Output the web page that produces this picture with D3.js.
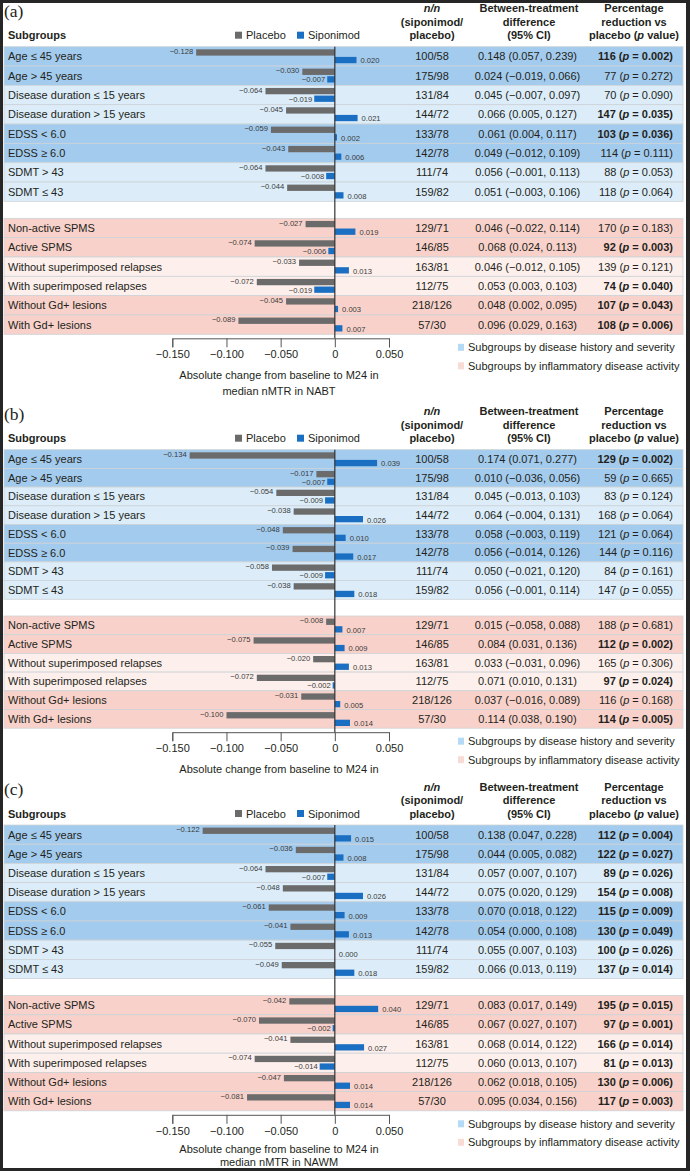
<!DOCTYPE html>
<html><head><meta charset="utf-8">
<script src="https://cdn.jsdelivr.net/npm/d3@7"></script>
<style>body{margin:0;background:#fff}svg{display:block}</style>
</head><body><script>
// ---------- DATA ----------
const subgroups = ["Age ≤ 45 years","Age > 45 years","Disease duration ≤ 15 years","Disease duration > 15 years",
  "EDSS < 6.0","EDSS ≥ 6.0","SDMT > 43","SDMT ≤ 43",
  "Non-active SPMS","Active SPMS","Without superimposed relapses","With superimposed relapses",
  "Without Gd+ lesions","With Gd+ lesions"];
const shade = ["hd","hd","hl","hl","hd","hd","hl","hl","id","id","il","il","id","id"];
const nSiponimod = [100,175,131,144,133,142,111,159,129,146,163,112,218,57];
const nPlacebo   = [58,98,84,72,78,78,74,82,71,85,81,75,126,30];
const seriesNames = ["Placebo","Siponimod"];
const tickValues = [-0.15,-0.10,-0.05,0,0.05];
const legendGroups = ["Subgroups by disease history and severity","Subgroups by inflammatory disease activity"];

// Panel (a) NABT
const placeboA   = [-0.128,-0.030,-0.064,-0.045,-0.059,-0.043,-0.064,-0.044,-0.027,-0.074,-0.033,-0.072,-0.045,-0.089];
const siponimodA = [0.020,-0.007,-0.019,0.021,0.002,0.006,-0.008,0.008,0.019,-0.006,0.013,-0.019,0.003,0.007];
const diffA = ["0.148 (0.057, 0.239)","0.024 (−0.019, 0.066)","0.045 (−0.007, 0.097)","0.066 (0.005, 0.127)",
  "0.061 (0.004, 0.117)","0.049 (−0.012, 0.109)","0.056 (−0.001, 0.113)","0.051 (−0.003, 0.106)",
  "0.046 (−0.022, 0.114)","0.068 (0.024, 0.113)","0.046 (−0.012, 0.105)","0.053 (0.003, 0.103)",
  "0.048 (0.002, 0.095)","0.096 (0.029, 0.163)"];
const pctA = [116,77,70,147,103,114,88,118,170,92,139,74,107,108];
const pA = ["0.002","0.272","0.090","0.035","0.036","0.111","0.053","0.064","0.183","0.003","0.121","0.040","0.043","0.006"];
const sigA = [1,0,0,1,1,0,0,0,0,1,0,1,1,1];

// Panel (b)
const placeboB   = [-0.134,-0.017,-0.054,-0.038,-0.048,-0.039,-0.058,-0.038,-0.008,-0.075,-0.020,-0.072,-0.031,-0.100];
const siponimodB = [0.039,-0.007,-0.009,0.026,0.010,0.017,-0.009,0.018,0.007,0.009,0.013,-0.002,0.005,0.014];
const diffB = ["0.174 (0.071, 0.277)","0.010 (−0.036, 0.056)","0.045 (−0.013, 0.103)","0.064 (−0.004, 0.131)",
  "0.058 (−0.003, 0.119)","0.056 (−0.014, 0.126)","0.050 (−0.021, 0.120)","0.056 (−0.001, 0.114)",
  "0.015 (−0.058, 0.088)","0.084 (0.031, 0.136)","0.033 (−0.031, 0.096)","0.071 (0.010, 0.131)",
  "0.037 (−0.016, 0.089)","0.114 (0.038, 0.190)"];
const pctB = [129,59,83,168,121,144,84,147,188,112,165,97,116,114];
const pB = ["0.002","0.665","0.124","0.064","0.064","0.116","0.161","0.055","0.681","0.002","0.306","0.024","0.168","0.005"];
const sigB = [1,0,0,0,0,0,0,0,0,1,0,1,0,1];

// Panel (c) NAWM
const placeboC   = [-0.122,-0.036,-0.064,-0.048,-0.061,-0.041,-0.055,-0.049,-0.042,-0.070,-0.041,-0.074,-0.047,-0.081];
const siponimodC = [0.015,0.008,-0.007,0.026,0.009,0.013,0.000,0.018,0.040,-0.002,0.027,-0.014,0.014,0.014];
const diffC = ["0.138 (0.047, 0.228)","0.044 (0.005, 0.082)","0.057 (0.007, 0.107)","0.075 (0.020, 0.129)",
  "0.070 (0.018, 0.122)","0.054 (0.000, 0.108)","0.055 (0.007, 0.103)","0.066 (0.013, 0.119)",
  "0.083 (0.017, 0.149)","0.067 (0.027, 0.107)","0.068 (0.014, 0.122)","0.060 (0.013, 0.107)",
  "0.062 (0.018, 0.105)","0.095 (0.034, 0.156)"];
const pctC = [112,122,89,154,115,130,100,137,195,97,166,81,130,117];
const pC = ["0.004","0.027","0.026","0.008","0.009","0.049","0.026","0.014","0.015","0.001","0.014","0.013","0.006","0.003"];
const sigC = [1,1,1,1,1,1,1,1,1,1,1,1,1,1];

const panelLabels = ["(a)","(b)","(c)"];
const axisTitles = [["Absolute change from baseline to M24 in","median nMTR in NABT"],
                    ["Absolute change from baseline to M24 in"],
                    ["Absolute change from baseline to M24 in","median nMTR in NAWM"]];

// ---------- LAYOUT ----------
const W = 690, H = 1171;
const FONT = '"Liberation Sans", Arial, Helvetica, sans-serif';
const TXT = "#231f20";
const shadeColor = {hd:"#a3cbed", hl:"#dcedf9", id:"#f8d2ca", il:"#fdefec"};
const barColor = ["#6b6b6b","#1b6fc2"];
const layout = [
  {rowTop:46.7, rowH:19.33, gap:17, t1:41, t2:15.8},
  {rowTop:449.7, rowH:18.7, gap:16.7, t1:41, t2:15.8},
  {rowTop:825, rowH:19.2, gap:17, t1:38.5, t2:12.3}
];
const data = [
  {pl:placeboA, si:siponimodA, diff:diffA, pct:pctA, p:pA, sig:sigA},
  {pl:placeboB, si:siponimodB, diff:diffB, pct:pctB, p:pB, sig:sigB},
  {pl:placeboC, si:siponimodC, diff:diffC, pct:pctC, p:pC, sig:sigC}
];

const svg = d3.select("body").append("svg").attr("width", W).attr("height", H)
  .style("font-family", FONT);
svg.append("rect").attr("width", W).attr("height", H).attr("fill", "#fff");

const x = d3.scaleLinear().domain([-0.15, 0.05]).range([172.3, 389]);
const fmt = d3.format(".3f");

data.forEach((d, pi) => {
  const L = layout[pi];
  const R = L.rowTop;
  const rowY = i => R + i * L.rowH + (i >= 8 ? L.gap : 0);
  const bottom = rowY(13) + L.rowH;
  const axisY = bottom + 4;
  const g = svg.append("g");

  // panel label
  g.append("text").attr("x", 4).attr("y", R - 30).text(panelLabels[pi])
    .style("font-family", '"Liberation Serif", "Times New Roman", serif').style("font-size", "17.5px").attr("fill", TXT);

  // header
  g.append("text").attr("x", 8).attr("y", R - 7.5).text("Subgroups")
    .style("font-weight", "bold").style("font-size", "11px").attr("fill", TXT);
  // top legend
  [[235, 0], [297, 1]].forEach(([lx, k]) => {
    g.append("rect").attr("x", lx).attr("y", R - 15).attr("width", 7).attr("height", 7).attr("fill", barColor[k]);
    g.append("text").attr("x", lx + 11).attr("y", R - 7.5).text(seriesNames[k])
      .style("font-size", "11px").attr("fill", TXT);
  });

  const hdr = (cx, lines) => {
    lines.forEach((ln, li) => {
      const t = g.append("text").attr("x", cx).attr("y", R - 34.5 + li * 13.5)
        .attr("text-anchor", "middle").style("font-weight", "bold").style("font-size", "11px").attr("fill", TXT);
      ln.forEach(seg => t.append("tspan").text(seg[0]).style("font-style", seg[1] ? "italic" : "normal"));
    });
  };
  hdr(432, [[["n/n", 1]], [["(siponimod/", 0]], [["placebo)", 0]]]);
  hdr(529, [[["Between-treatment", 0]], [["difference", 0]], [["(95% CI)", 0]]]);
  hdr(634, [[["Percentage", 0]], [["reduction vs", 0]], [["placebo (", 0], ["p", 1], [" value)", 0]]]);

  // rows
  subgroups.forEach((s, i) => {
    g.append("rect").attr("x", 4).attr("y", rowY(i)).attr("width", 679).attr("height", L.rowH)
      .attr("fill", shadeColor[shade[i]]).attr("stroke", "#cdd3d8").attr("stroke-width", 0.8);
  });

  subgroups.forEach((s, i) => {
    const y0 = rowY(i);
    const cy = y0 + L.rowH / 2;
    g.append("text").attr("x", 8).attr("y", cy + 4).text(s).style("font-size", "11px").attr("fill", TXT);

    // bars
    const pv = d.pl[i], sv = d.si[i];
    const pby = y0 + 2.6, sby = y0 + 10.2, bh = 6.3;
    g.append("rect").attr("x", Math.min(x(pv), x(0))).attr("y", pby)
      .attr("width", Math.abs(x(pv) - x(0))).attr("height", bh).attr("fill", barColor[0]);
    g.append("rect").attr("x", Math.min(x(sv), x(0))).attr("y", sby)
      .attr("width", Math.abs(x(sv) - x(0))).attr("height", bh).attr("fill", barColor[1]);
    // value labels
    g.append("text").attr("x", x(pv) - 3).attr("y", pby + 4.6).attr("text-anchor", "end")
      .text(fmt(pv)).style("font-size", "7.6px").attr("fill", "#3a3a3a");
    if (sv < 0) {
      g.append("text").attr("x", x(sv) - 2).attr("y", sby + 6).attr("text-anchor", "end")
        .text(fmt(sv)).style("font-size", "7.6px").attr("fill", "#3a3a3a");
    } else {
      g.append("text").attr("x", x(sv) + 4).attr("y", sby + 6.5).attr("text-anchor", "start")
        .text(fmt(sv)).style("font-size", "7.6px").attr("fill", "#3a3a3a");
    }

    // table columns
    g.append("text").attr("x", 432).attr("y", cy + 3.9).attr("text-anchor", "middle")
      .text(nSiponimod[i] + "/" + nPlacebo[i]).style("font-size", "11px").attr("fill", TXT);
    g.append("text").attr("x", 527.5).attr("y", cy + 3.9).attr("text-anchor", "middle")
      .text(d.diff[i]).style("font-size", "11px").attr("fill", TXT);
    const t = g.append("text").attr("x", 673).attr("y", cy + 3.9).attr("text-anchor", "end")
      .style("font-size", "11px").style("font-weight", d.sig[i] ? "bold" : "normal").attr("fill", TXT);
    t.append("tspan").text(d.pct[i] + " (");
    t.append("tspan").text("p").style("font-style", "italic");
    t.append("tspan").text(" = " + d.p[i] + ")");
  });

  // zero line
  g.append("line").attr("x1", x(0)).attr("x2", x(0)).attr("y1", R).attr("y2", axisY)
    .attr("stroke", "#333").attr("stroke-width", 1.2);

  // axis
  const ax = g.append("g").attr("transform", `translate(0,${axisY})`)
    .call(d3.axisBottom(x).tickValues(tickValues).tickSize(9).tickSizeOuter(9).tickPadding(3)
      .tickFormat(v => v === 0 ? "0" : fmt(v)));
  ax.selectAll("path,line").attr("stroke", "#555").attr("stroke-width", 1);
  ax.selectAll("text").style("font-size", "11px").style("font-family", FONT).attr("fill", TXT);

  axisTitles[pi].forEach((ln, li) => {
    g.append("text").attr("x", 279).attr("y", axisY + L.t1 + li * L.t2).attr("text-anchor", "middle")
      .text(ln).style("font-size", "11px").attr("fill", TXT);
  });

  // bottom legend
  legendGroups.forEach((ln, li) => {
    const ly = axisY + 9 + li * 18.5;
    g.append("rect").attr("x", 458).attr("y", ly - 3.5).attr("width", 6).attr("height", 7)
      .attr("fill", li === 0 ? "#b4daf5" : "#f9dbd5");
    g.append("text").attr("x", 468).attr("y", ly + 4).text(ln).style("font-size", "11px").attr("fill", TXT);
  });
});

// frame
const fc = "#262626";
svg.append("rect").attr("x", 0).attr("y", 0).attr("width", W).attr("height", 3).attr("fill", fc);
svg.append("rect").attr("x", 0).attr("y", H - 3).attr("width", W).attr("height", 3).attr("fill", fc);
svg.append("rect").attr("x", 0).attr("y", 0).attr("width", 3).attr("height", H).attr("fill", fc);
svg.append("rect").attr("x", W - 4).attr("y", 0).attr("width", 4).attr("height", H).attr("fill", fc);
</script></body></html>
